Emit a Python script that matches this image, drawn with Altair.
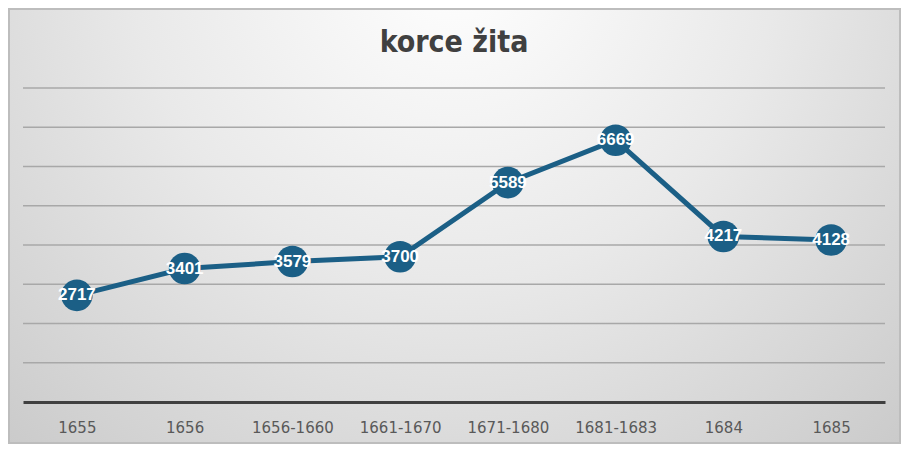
import altair as alt
import pandas as pd

# ---- data ----
periods = ["1655", "1656", "1656-1660", "1661-1670", "1671-1680", "1681-1683", "1684", "1685"]
values = [2717, 3401, 3579, 3700, 5589, 6669, 4217, 4128]
grid_values = [1000, 2000, 3000, 4000, 5000, 6000, 7000, 8000]
title_text = "korce žita"

df = pd.DataFrame({"period": periods, "value": values})
grid_df = pd.DataFrame({"g": grid_values})
one = pd.DataFrame({"t": [title_text]})

W, H = 862, 314
PL, PT, PR, PB = 15, 80, 16, 42
BLUE = "#1b5f86"

xenc = alt.X("period:N", sort=periods,
             scale=alt.Scale(padding=0.5),
             axis=alt.Axis(title=None, ticks=False, labelAngle=0,
                           labelFont="DejaVu Sans", labelFontSize=15,
                           labelColor="#595959", labelBaseline="middle",
                           labelPadding=25, domainColor="#404040",
                           domainWidth=3, grid=False, zindex=1))
yscale = alt.Scale(domain=[0, 8000], nice=False, zero=True)

bg = alt.Chart(one).mark_rect(
    fill={"gradient": "radial", "x1": 0.5, "y1": 0.2, "r1": 0,
          "x2": 0.5, "y2": 0.2, "r2": 0.8,
          "stops": [{"offset": 0, "color": "#ffffff"},
                    {"offset": 0.45, "color": "#e9e9e9"},
                    {"offset": 0.75, "color": "#d6d6d6"},
                    {"offset": 1, "color": "#c6c6c6"}]},
    stroke="#bdbdbd", strokeWidth=2
).encode(x=alt.value(-PL + 1), x2=alt.value(W + PR - 1),
         y=alt.value(-PT + 1), y2=alt.value(H + PB - 1))

grid = alt.Chart(grid_df).mark_rule(color="#a8a8a8", strokeWidth=1.5).encode(
    y=alt.Y("g:Q", scale=yscale, axis=None),
    x=alt.value(0), x2=alt.value(W))

line = alt.Chart(df).mark_line(color=BLUE, strokeWidth=5).encode(
    x=xenc, y=alt.Y("value:Q", scale=yscale, axis=None))

pts = alt.Chart(df).mark_circle(color=BLUE, opacity=1, size=1000).encode(
    x=xenc, y=alt.Y("value:Q", scale=yscale, axis=None))

labels = alt.Chart(df).mark_text(color="white", fontWeight="bold", fontSize=17,
                                 font="Liberation Sans", baseline="middle",
                                 align="center").encode(
    x=xenc, y=alt.Y("value:Q", scale=yscale, axis=None), text="value:Q")

title = alt.Chart(one).mark_text(
    font="DejaVu Sans Condensed, Roboto Condensed, Liberation Sans, sans-serif",
    fontWeight="bold", fontSize=30, color="#404040", align="center",
    baseline="alphabetic").encode(
    x=alt.value(W / 2), y=alt.value(-36), text="t:N")

chart = alt.layer(bg, grid, line, pts, labels, title).properties(
    width=W, height=H,
    padding={"left": PL, "top": PT, "right": PR, "bottom": PB},
    autosize=alt.AutoSizeParams(type="none"),
    background="#d0d0d0"
).configure_view(strokeWidth=0)

chart.save("out.html", embed_options={"renderer": "svg", "actions": False})
